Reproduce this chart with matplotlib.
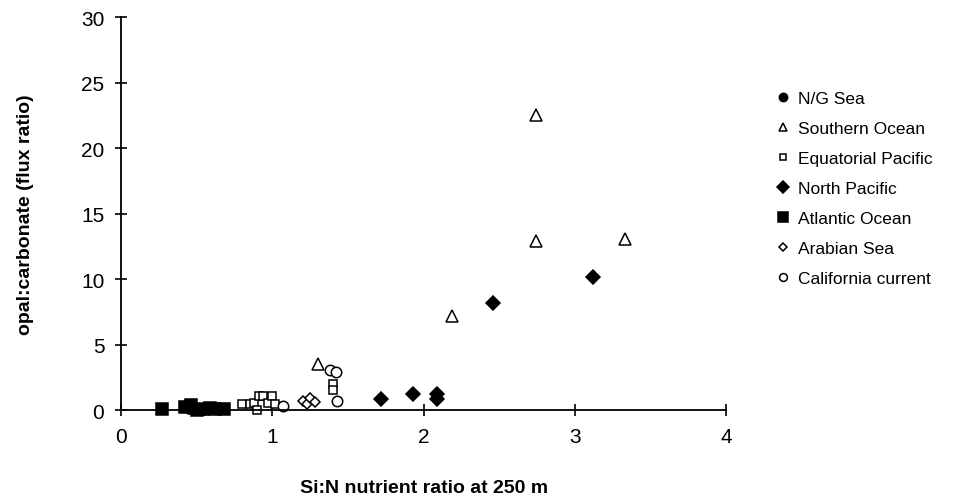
import numpy as np
import matplotlib
matplotlib.use('Agg')
import matplotlib.pyplot as plt

plt.rcParams['font.family'] = ['Liberation Sans', 'DejaVu Sans']

# data: (Si:N ratio, opal:carbonate)
ng_x = [0.45, 0.55]
ng_y = [0.15, 0.1]

south_x = [1.30, 2.19, 2.74, 2.74, 3.33]
south_y = [3.5, 7.2, 12.9, 22.5, 13.05]

eqpac_x = [0.80, 0.85, 0.88, 0.91, 0.94, 0.90, 0.97, 1.00, 1.02, 1.40, 1.40]
eqpac_y = [0.45, 0.45, 0.55, 1.05, 1.05, 0.0, 0.55, 1.05, 0.5, 2.0, 1.5]

npac_x = [1.72, 1.93, 2.09, 2.09, 2.46, 3.12]
npac_y = [0.85, 1.2, 1.2, 0.85, 8.2, 10.15]

atl_x = [0.27, 0.42, 0.46, 0.50, 0.54, 0.59, 0.62, 0.68]
atl_y = [0.1, 0.25, 0.4, 0.0, 0.1, 0.2, 0.1, 0.1]

arab_x = [1.20, 1.23, 1.25, 1.28]
arab_y = [0.7, 0.45, 0.9, 0.6]

calif_x = [1.07, 1.38, 1.42, 1.43]
calif_y = [0.3, 3.1, 2.9, 0.7]

series = [
    ('N/G Sea', ng_x, ng_y, 'o', 'k', 8),
    ('Southern Ocean', south_x, south_y, '^', 'w', 8.5),
    ('Equatorial Pacific', eqpac_x, eqpac_y, 's', 'w', 6),
    ('North Pacific', npac_x, npac_y, 'D', 'k', 7.5),
    ('Atlantic Ocean', atl_x, atl_y, 's', 'k', 9),
    ('Arabian Sea', arab_x, arab_y, 'D', 'w', 5.5),
    ('California current', calif_x, calif_y, 'o', 'w', 7.5),
]

fig = plt.figure(figsize=(9.56, 5.02), dpi=100)
ax = fig.add_axes([0.1266, 0.181, 0.633, 0.783])

for label, x, y, m, fc, ms in series:
    ax.plot(x, y, linestyle='none', marker=m, markerfacecolor=fc,
            markeredgecolor='k', markeredgewidth=1.1, markersize=ms,
            label=label, clip_on=False)

ax.set_xlim(0, 4)
ax.set_ylim(0, 30)
ax.set_xticks([0, 1, 2, 3, 4])
ax.set_yticks(range(0, 31, 5))
ax.spines['top'].set_visible(False)
ax.spines['right'].set_visible(False)
for s in ('left', 'bottom'):
    ax.spines[s].set_linewidth(1.3)
ax.tick_params(direction='inout', length=8, width=1.2, labelsize=15, pad=8)

ax.set_xlabel('Si:N nutrient ratio at 250 m', fontsize=14, fontweight='bold', labelpad=24)
ax.set_ylabel('opal:carbonate (flux ratio)', fontsize=14, fontweight='bold', labelpad=34)

leg = ax.legend(loc='upper left', bbox_to_anchor=(0.806, 0.83), bbox_transform=fig.transFigure,
                frameon=False, fontsize=12.5, markerscale=0.75, handlelength=0.6,
                handletextpad=0.6, labelspacing=0.85, borderaxespad=0)

fig.savefig('out.png', dpi=100)
